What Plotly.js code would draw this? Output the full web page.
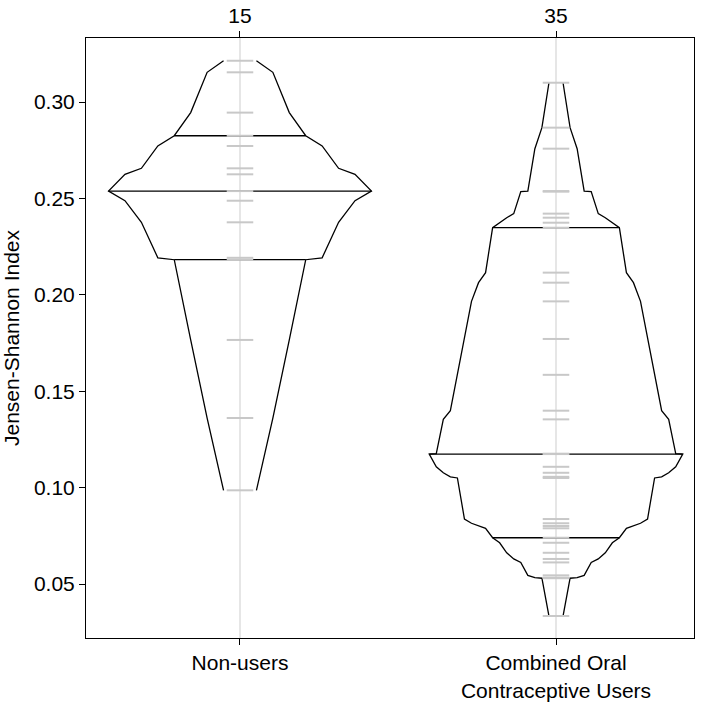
<!DOCTYPE html>
<html>
<head>
<meta charset="utf-8">
<script src="https://cdn.plot.ly/plotly-3.0.1.min.js"></script>
<style>
  html, body { margin: 0; padding: 0; background: #fff; }
  #chart { width: 710px; height: 710px; }
</style>
</head>
<body>
<div id="chart"></div>
<script>
// groups along the x axis
var groups = ['Non-users', 'Combined Oral<br>Contraceptive Users'];

// Jensen-Shannon index values
var nonUsers = [0.3214, 0.3154, 0.2945, 0.2825, 0.2772, 0.2656, 0.2625, 0.2538,
  0.2488, 0.2376, 0.2192, 0.2182, 0.1766, 0.1361, 0.0986];

var cocUsers = [0.3100, 0.2867, 0.2758, 0.2538, 0.2535, 0.2421, 0.2400, 0.2374, 0.2348,
  0.2115, 0.2063, 0.1966, 0.1771, 0.1585, 0.1399, 0.1354, 0.1176, 0.1174,
  0.1108, 0.1077, 0.1056, 0.1050, 0.0837, 0.0815, 0.0801, 0.0789, 0.0740,
  0.0714, 0.0662, 0.0630, 0.0612, 0.0545, 0.0533, 0.0530, 0.0334];

var series = [nonUsers, cocUsers];
var counts = series.map(function (s) { return String(s.length); });

var halfMax = 0.39;   // max half-width of a shape, x units
var rugHalf = 0.042;  // half-width of the grey data ticks

var traces = [];
var shapes = [];

series.forEach(function (vals, g) {
  var pos = g + 1;
  var v = vals.slice().sort(function (a, b) { return b - a; });
  var n = v.length;
  var width = function (i) {  // i is 0-based rank from the top
    var depth = Math.min(i + 1, n - i);
    return halfMax * depth / (n / 2);
  };

  // outline (open at top and bottom)
  var ox = [], oy = [];
  v.forEach(function (y, i) { ox.push(pos + width(i)); oy.push(y); });
  ox.push(null); oy.push(null);
  v.forEach(function (y, i) { ox.push(pos - width(i)); oy.push(y); });

  // median + quartile lines
  var q = Math.ceil(n / 4) - 1;
  var mid = Math.floor(n / 2);
  var lx = [], ly = [];
  [q, mid, n - 1 - q].forEach(function (i) {
    lx.push(pos - width(i), pos + width(i), null);
    ly.push(v[i], v[i], null);
  });

  traces.push({
    x: ox.concat([null], lx), y: oy.concat([null], ly),
    type: 'scatter', mode: 'lines',
    line: { color: '#000', width: 1.3 },
    hoverinfo: 'skip', showlegend: false
  });

  // grey rug ticks
  var rx = [], ry = [];
  v.forEach(function (y) {
    rx.push(pos - rugHalf, pos + rugHalf, null);
    ry.push(y, y, null);
  });
  traces.push({
    x: rx, y: ry, type: 'scatter', mode: 'lines',
    line: { color: '#c8c8c8', width: 2 },
    hoverinfo: 'skip', showlegend: false
  });

  shapes.push({
    type: 'line', layer: 'below', xref: 'x', yref: 'paper',
    x0: pos, x1: pos, y0: 0, y1: 1,
    line: { color: '#e6e6e6', width: 2 }
  });
});

var tickPos = groups.map(function (d, i) { return i + 1; });

// empty trace so the top (count) axis is drawn
traces.push({
  x: tickPos, y: [null, null], xaxis: 'x2', yaxis: 'y',
  type: 'scatter', mode: 'markers', hoverinfo: 'skip', showlegend: false
});

var xr = [0.5127, 2.4367];
var font = { family: 'Liberation Sans, Arial, sans-serif', size: 21, color: '#000' };

var layout = {
  width: 710, height: 710,
  margin: { l: 86, r: 16, t: 38, b: 72 },
  paper_bgcolor: '#fff', plot_bgcolor: '#fff',
  font: font,
  showlegend: false,
  shapes: shapes,
  xaxis: {
    range: xr, tickvals: tickPos, ticktext: groups,
    ticks: 'outside', ticklen: 6, tickcolor: '#000',
    showline: true, mirror: true, linecolor: '#000', linewidth: 1,
    showgrid: false, zeroline: false
  },
  xaxis2: {
    overlaying: 'x', side: 'top', range: xr,
    tickvals: tickPos, ticktext: counts,
    ticks: 'outside', ticklen: 6, tickcolor: '#000',
    showline: false, showgrid: false, zeroline: false
  },
  yaxis: {
    range: [0.0220, 0.3332], dtick: 0.05, tick0: 0, tickformat: '.2f',
    ticks: 'outside', ticklen: 6, tickcolor: '#000',
    showline: true, mirror: true, linecolor: '#000', linewidth: 1,
    showgrid: false, zeroline: false,
    title: { text: 'Jensen-Shannon Index', font: font, standoff: 8 }
  }
};

Plotly.newPlot('chart', traces, layout, { displayModeBar: false, staticPlot: true });
</script>
</body>
</html>
